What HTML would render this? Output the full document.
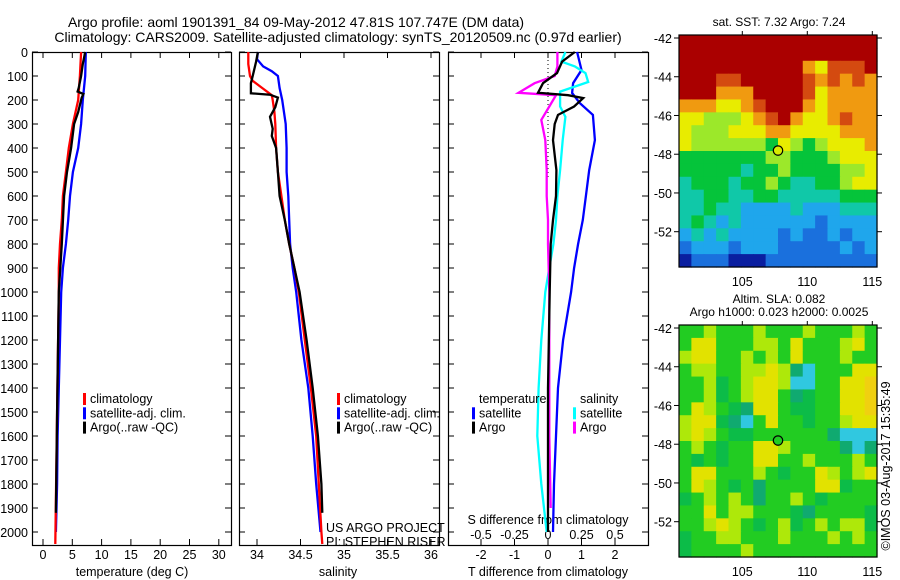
<!DOCTYPE html>
<html><head><meta charset="utf-8">
<style>
html,body{margin:0;padding:0;background:#fff;width:900px;height:580px;overflow:hidden}
svg{display:block;font-family:"Liberation Sans",sans-serif}
text{fill:#000}
</style></head>
<body>
<svg id="fig" width="900" height="580" viewBox="0 0 900 580" xmlns="http://www.w3.org/2000/svg">
<text x="296" y="27" font-size="14" text-anchor="middle">Argo profile: aoml 1901391_84 09-May-2012 47.81S 107.747E (DM data)</text>
<text x="338" y="42" font-size="14" text-anchor="middle">Climatology: CARS2009. Satellite-adjusted climatology: synTS_20120509.nc (0.97d earlier)</text>
<g id="g"></g>
</svg>
<script>
// ---------- data ----------
const depthTicks=[0,100,200,300,400,500,600,700,800,900,1000,1100,1200,1300,1400,1500,1600,1700,1800,1900,2000];
const tTicks=[0,5,10,15,20,25,30];
const sTicks=[34,34.5,35,35.5,36];
const sTickLabels=["34","34.5","35","35.5","36"];
const dTTicks=[-2,-1,0,1,2];
const dSTicks=[-0.5,-0.25,0,0.25,0.5];
const dSTickLabels=["-0.5","-0.25","0","0.25","0.5"];

const climTDepth=[0,100,200,300,400,500,600,700,800,900,1000,1500,2050];
const climT=[6.5,6.3,6.0,5.1,4.4,3.9,3.4,3.2,2.9,2.7,2.7,2.4,2.1];
const satTDepth=[0,100,200,300,400,500,600,700,800,900,1000,1200,1400,1600,1800,2000];
const satT=[7.3,7.2,6.8,6.5,6.0,5.1,4.6,4.3,3.9,3.4,3.1,2.9,2.7,2.5,2.4,2.2];
const argoTDepth=[0,50,100,150,165,175,190,250,300,400,500,600,800,1000,1500,1920];
const argoT=[7.2,6.8,6.5,6.1,5.9,6.9,6.6,6.0,5.3,4.8,4.1,3.6,3.2,2.7,2.4,2.2];

const climSDepth=[0,50,100,120,150,180,200,250,300,400,500,600,700,800,900,1000,1200,1400,1600,1800,2000,2050];
const climS=[33.90,33.90,33.92,33.95,34.06,34.17,34.18,34.20,34.21,34.22,34.24,34.28,34.32,34.37,34.43,34.48,34.55,34.62,34.68,34.71,34.74,34.75];
const satSDepth=[0,30,60,80,100,150,200,300,400,500,600,700,800,900,1000,1200,1400,1600,1800,2000];
const satS=[34.01,34.00,34.07,34.17,34.24,34.26,34.29,34.33,34.34,34.34,34.36,34.37,34.38,34.41,34.45,34.51,34.59,34.64,34.68,34.73];
const argoSDepth=[0,40,100,130,172,178,190,230,270,320,350,400,500,600,700,800,900,1000,1200,1400,1600,1800,1920];
const argoS=[34.01,33.99,33.95,33.93,33.93,34.15,34.24,34.21,34.15,34.18,34.17,34.22,34.24,34.26,34.32,34.37,34.43,34.49,34.57,34.64,34.70,34.74,34.75];

const dSatTDepth=[0,75,130,171,213,262,367,492,600,700,800,900,1000,1200,1400,1600,1800,2000];
const dSatT=[0.87,1.0,0.75,0.72,0.95,1.34,1.4,1.23,1.13,1.04,0.9,0.78,0.69,0.45,0.3,0.24,0.18,0.15];
const dArgoTDepth=[0,40,88,130,170,180,192,227,262,300,367,492,600,700,800,1000,1400,2000];
const dArgoT=[0.8,0.42,0.27,-0.15,-0.3,0.6,1.05,0.78,0.3,0.2,0.15,0.25,0.24,0.15,0.08,0.05,0.0,0.0];
const dSatSDepth=[0,40,60,88,125,165,227,270,367,492,600,700,800,900,1000,1200,1400,1600,1800,2000];
const dSatS=[0.13,0.10,0.20,0.28,0.30,0.09,0.09,0.13,0.11,0.09,0.07,0.06,0.04,0.01,-0.02,-0.05,-0.07,-0.08,-0.05,-0.01];
const dArgoSDepth=[0,60,100,130,170,180,227,283,367,492,600,700,800,1000,1200,1600,1900];
const dArgoS=[0.07,0.07,0.05,-0.10,-0.22,0.06,0.01,-0.05,-0.02,-0.01,-0.01,0,0,0.01,0.01,0.01,0.02];

const lonTicks=[105,110,115];
const latTicks=[-42,-44,-46,-48,-50,-52];
const sstRows=["9999999999999999","9999999999999999","9999999999768889","9998899999878787","9997779999867777","7776678999767777","6655567897667877","6555666776666777","6555555465456667","4444444554445666","4444434454444556","3444344543344566","3344334433333444","3343322223222333","3432322222212222","2323222212112122","1222122211111212","0111000111111111"];
const slaRows=["3343334333433343","3553334435333453","4553343435333433","3443344541033355","3342345540033556","3342345531233556","3543215532233556","4552103533233455","4543223333331000","3432335543333101","3232335533433343","3553334323354345","3543231333355233","2343431334323333","3353443332133332","3345432342343442","2334433343334343","2333343333333333"];
const argoLon=107.747, argoLat=-47.81;

// ---------- helpers ----------
const NS="http://www.w3.org/2000/svg";
const G=document.getElementById('g');
function el(tag,attrs,parent){const e=document.createElementNS(NS,tag);for(const k in attrs)e.setAttribute(k,attrs[k]);(parent||G).appendChild(e);return e;}
function txt(x,y,s,size,anchor,parent){const t=el('text',{x:x,y:y,'font-size':size||12,'text-anchor':anchor||'middle'},parent);t.textContent=s;return t;}
const yD=d=>52+0.24*d;
const PT=52,PB=545;
function line(xs,ds,fx,color,name,w){
  const pts=xs.map((v,i)=>fx(v).toFixed(1)+','+yD(ds[i]).toFixed(1)).join(' ');
  const p=el('polyline',{points:pts,fill:'none',stroke:color,'stroke-width':w||2.3,'stroke-linejoin':'miter'});
  
  
}
function frame(x0,x1,name){
  const r=el('rect',{x:x0+0.5,y:PT+0.5,width:x1-x0,height:PB-PT,fill:'none',stroke:'#000','stroke-width':1.2});
  
  
}
function xticks(vals,fx,lab,ylab){
  vals.forEach((v,i)=>{const x=fx(v);
    el('line',{x1:x,x2:x,y1:PT,y2:PT+6,stroke:'#000'});
    el('line',{x1:x,x2:x,y1:PB,y2:PB-6,stroke:'#000'});
    if(lab){const t=txt(x,ylab,lab[i],12.5);}
  });
}
function yticks(x0,x1){depthTicks.forEach(d=>{const y=yD(d);
  el('line',{x1:x0,x2:x0+6,y1:y,y2:y,stroke:'#000'});el('line',{x1:x1,x2:x1-6,y1:y,y2:y,stroke:'#000'});});}

// ---------- panel 1: temperature ----------
const fT=v=>43+v*5.86;
frame(32,231,'temperature-panel');
yticks(32,231);
depthTicks.forEach(d=>{const t=txt(28,yD(d)+5,String(d),12.5,'end');});
xticks(tTicks,fT,tTicks.map(String),559);
{const t=txt(132,576,'temperature (deg C)',12.5);}
line(satT,satTDepth,fT,'#0000ff','sat-temperature-line');
line(climT,climTDepth,fT,'#ff0000','clim-temperature-line');
line(argoT,argoTDepth,fT,'#000','argo-temperature-line');

// ---------- panel 2: salinity ----------
const fS=v=>257+(v-34)*87;
frame(239,439,'salinity-panel');
yticks(239,439);
xticks(sTicks,fS,sTickLabels,559);
{const t=txt(338,576,'salinity',12.5);}
line(satS,satSDepth,fS,'#0000ff','sat-salinity-line');
line(climS,climSDepth,fS,'#ff0000','clim-salinity-line');
line(argoS,argoSDepth,fS,'#000','argo-salinity-line');
{const t=txt(326,532,'US ARGO PROJECT',12.5,'start');
 const u=txt(326,546,'PI: STEPHEN RISER',12.5,'start');}

// legends
function legend(x,y,items,name){
  const g=el('g',{});
  items.forEach((it,i)=>{const yy=y+i*14.3;
    if(it[1])el('rect',{x:x,y:yy-10,width:3,height:12,fill:it[1]},g);
    txt(x+7,yy,it[0],12.5,'start',g);});
}
legend(83,403,[['climatology','#ff0000'],['satellite-adj. clim.','#0000ff'],['Argo(..raw -QC)','#000']],'temperature-legend');
legend(337,403,[['climatology','#ff0000'],['satellite-adj. clim.','#0000ff'],['Argo(..raw -QC)','#000']],'salinity-legend');

// ---------- panel 3: differences ----------
const fdT=v=>548+v*33.5;
const fdS=v=>548+v*134;
frame(448,648,'difference-panel');
yticks(448,648);
xticks(dTTicks,fdT,dTTicks.map(String),559);
{const t=txt(548,576,'T difference from climatology',12.5);}
{const t=txt(548,524,'S difference from climatology',12.5);}
dSTicks.forEach((v,i)=>{const t=txt(fdS(v),539,dSTickLabels[i],12.5);});
el('line',{x1:548,x2:548,y1:PT,y2:180,stroke:'#000','stroke-dasharray':'1,3'});
line(dSatT,dSatTDepth,fdT,'#0000ff','sat-tdiff-line');
line(dSatS,dSatSDepth,fdS,'#00ffff','sat-sdiff-line');
line(dArgoS,dArgoSDepth,fdS,'#ff00ff','argo-sdiff-line');
line(dArgoT,dArgoTDepth,fdT,'#000','argo-tdiff-line');
legend(472,403,[['temperature',null],['satellite','#0000ff'],['Argo','#000']],'tdiff-legend');
legend(573,403,[['salinity',null],['satellite','#00ffff'],['Argo','#ff00ff']],'sdiff-legend');

// ---------- maps ----------
const sstColors=['#0a1ea0','#1a70dd','#1fa6ec','#10c8a8','#05c43a','#9ce82a','#e8ec00','#f09a10','#d44a10','#aa0000'];
const slaColors=['#30c8e0','#10aa70','#0cbc48','#22cc22','#aee80a','#e2e200','#f0d010'];
function drawMap(rows,colors,top,bottom,name,circleFill){
  const L=679,R=877;const fLon=v=>742.3+(v-105)*13;const lat0=-42;
  const pxPerLat=19.37;const yL=v=>top+3+(lat0-v)*pxPerLat;
  const g=el('g',{});
  const nr=rows.length,nc=rows[0].length,cw=(R-L)/nc,ch=(bottom-top)/nr;
  rows.forEach((r,i)=>{for(let j=0;j<nc;j++){
    const c=el('rect',{x:(L+j*cw).toFixed(2),y:(top+i*ch).toFixed(2),width:(cw+0.6).toFixed(2),height:(ch+0.6).toFixed(2),fill:colors[+r[j]]},g);
    
    
  }});
  el('rect',{x:L,y:top,width:R-L,height:bottom-top,fill:'none',stroke:'#000','stroke-width':1.2},g);
  latTicks.forEach(v=>{const y=yL(v);el('line',{x1:L-5,x2:L,y1:y,y2:y,stroke:'#000'},g);el('line',{x1:R,x2:R+5,y1:y,y2:y,stroke:'#000'},g);
    const t=txt(L-7,y+5,String(v),12.5,'end',g);});
  lonTicks.forEach(v=>{const x=fLon(v);el('line',{x1:x,x2:x,y1:top-4,y2:top,stroke:'#000'},g);
    const t=txt(x,bottom+19,String(v),12.5,'middle',g);});
  const c=el('circle',{cx:fLon(argoLon),cy:yL(argoLat),r:4.7,fill:circleFill,stroke:'#000','stroke-width':1.2},g);
  
  
}
drawMap(sstRows,sstColors,35,267,'sst-map','#d8ec00');
drawMap(slaRows,slaColors,325,557,'sla-map','#22cc22');
{const t=txt(779,26,'sat. SST: 7.32 Argo: 7.24',12);}
{const t=txt(779,303,'Altim. SLA: 0.082',12);}
{const t=txt(779,316,'Argo h1000: 0.023 h2000: 0.0025',12);}
{const t=txt(0,0,'©IMOS 03-Aug-2017 15:35:49',12.5,'middle');t.setAttribute('transform','translate(890,466) rotate(-90)');}
</script>
</body></html>
